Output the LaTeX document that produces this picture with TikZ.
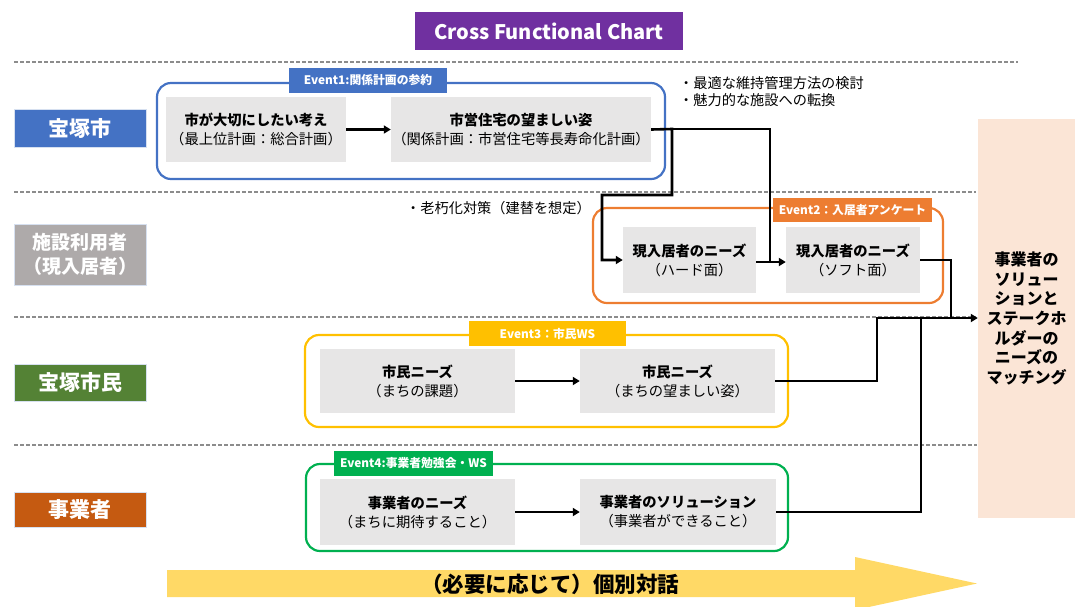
\documentclass[tikz,border=0pt]{standalone}
\usepackage{fontspec}
\setmainfont{Noto Sans CJK JP}
\usetikzlibrary{arrows.meta}
\definecolor{cpurple}{HTML}{7030A0}
\definecolor{cblue}{HTML}{4472C4}
\definecolor{cgrey}{HTML}{AEAAAA}
\definecolor{cgreen}{HTML}{548235}
\definecolor{cbrown}{HTML}{C55A11}
\definecolor{corange}{HTML}{ED7D31}
\definecolor{cyellow}{HTML}{FFC000}
\definecolor{cgreentwo}{HTML}{00B050}
\definecolor{cbox}{HTML}{E7E6E6}
\definecolor{cpeach}{HTML}{FBE5D6}
\definecolor{carrow}{HTML}{FFD966}
\definecolor{cdash}{HTML}{8C8C8C}
\definecolor{cedge}{HTML}{D6E0F0}
\begin{document}
\begin{tikzpicture}[x=1pt,y=-1pt,
  lane/.style={fill=#1, draw=cedge, line width=1pt, text=white,
    font=\fontsize{21}{24}\selectfont\bfseries, align=center, inner sep=0pt,
    minimum width=132},
  gbox/.style={fill=cbox, draw=none, align=center, inner sep=0pt,
    font=\fontsize{14.3}{19}\selectfont},
  cont/.style={draw=#1, line width=2.2pt, rounded corners=14pt, inner sep=0pt},
  evlab/.style={fill=#1, text=white, inner sep=0pt, minimum height=25,
    font=\fontsize{11.8}{13}\selectfont\bfseries},
  conn/.style={draw=black, line width=2.6pt},
  arr/.style={conn, -{Triangle[length=7pt,width=8pt]}},
  dl/.style={draw=cdash, line width=1.3pt, dash pattern=on 4pt off 2pt},
  note/.style={anchor=west, inner sep=0pt, align=left,
    font=\fontsize{14.2}{17}\selectfont}
]
\useasboundingbox (0,0) rectangle (1075,606);

% title
\node[fill=cpurple, text=white, minimum width=268, minimum height=38, inner sep=0pt,
  font=\fontsize{20}{22}\selectfont\bfseries] (title) at (549,31) {Cross Functional Chart};

% dashed separators
\draw[dl] (14,62) -- (1018,62);
\draw[dl] (14,192) -- (976,192);
\draw[dl] (14,317) -- (976,317);
\draw[dl] (14,445) -- (977,445);

% lane labels
\node[lane=cblue, minimum height=38] (L1) at (80,128) {宝塚市};
\node[lane=cgrey, minimum height=61, font=\fontsize{19}{24}\selectfont\bfseries] (L2) at (80,254.5) {施設利用者\\（現入居者）};
\node[lane=cgreen, minimum height=37] (L3) at (80,382.5) {宝塚市民};
\node[lane=cbrown, minimum height=35] (L4) at (80,509.5) {事業者};

% peach result box
\node[fill=cpeach, minimum width=97, minimum height=399, inner sep=0pt, align=center,
  font=\fontsize{16}{19.7}\selectfont\bfseries] (M) at (1026.5,318.5)
  {事業者の\\ソリュー\\ションと\\ステークホ\\ルダーの\\ニーズの\\マッチング};

% containers
\node[cont=cblue, minimum width=508, minimum height=96] (ev1) at (411,131) {};
\node[cont=corange, minimum width=350, minimum height=95] (ev2) at (768,255.5) {};
\node[cont=cyellow, minimum width=483, minimum height=92] (ev3) at (546.5,381) {};
\node[cont=cgreentwo, minimum width=482, minimum height=87] (ev4) at (547,507.5) {};

% event labels
\node[evlab=cblue, minimum width=158] (l1) at (368,80.5) {Event1:関係計画の参約};
\node[evlab=corange, minimum width=159, minimum height=24] (l2) at (852.5,210) {Event2：入居者アンケート};
\node[evlab=cyellow, minimum width=157] (l3) at (547.5,333.5) {Event3：市民WS};
\node[evlab=cgreentwo, minimum width=159] (l4) at (413.5,463.5) {Event4:事業者勉強会・WS};

% grey boxes
\node[gbox, minimum width=180, minimum height=65] (A) at (256,129.5)
  {\textbf{市が大切にしたい考え}\\（最上位計画：総合計画）};
\node[gbox, minimum width=260, minimum height=65] (B) at (521,129.5)
  {\textbf{市営住宅の望ましい姿}\\（関係計画：市営住宅等長寿命化計画）};
\node[gbox, minimum width=133, minimum height=66] (C) at (689.5,260)
  {\textbf{現入居者のニーズ}\\（ハード面）};
\node[gbox, minimum width=134, minimum height=66] (D) at (853,260)
  {\textbf{現入居者のニーズ}\\（ソフト面）};
\node[gbox, minimum width=195, minimum height=64] (E) at (417.5,381)
  {\textbf{市民ニーズ}\\（まちの課題）};
\node[gbox, minimum width=195, minimum height=64] (F) at (677.5,381)
  {\textbf{市民ニーズ}\\（まちの望ましい姿）};
\node[gbox, minimum width=195, minimum height=66] (G) at (417.5,512)
  {\textbf{事業者のニーズ}\\（まちに期待すること）};
\node[gbox, minimum width=196, minimum height=66] (H) at (678,512)
  {\textbf{事業者のソリューション}\\（事業者ができること）};

% notes
\node[note] (n1) at (679,91.5) {・最適な維持管理方法の検討\\・魅力的な施設への転換};
\node[note] (n2) at (406,208) {・老朽化対策（建替を想定）};

% junction coordinates
\coordinate (jb) at (672,129);
\coordinate (jm) at (951,318);

% connectors
\draw[arr] (A) -- (B);
\draw[arr] (B.east) -- (jb) -- (672,195) -- (602,195) |- (C.west);
\draw[conn] (jb) -| (770,262);
\draw[arr] (C.east |- 0,262) -- (D.west |- 0,262);
\draw[arr] (D.east) -| (jm) -- (M.west |- jm);
\draw[arr] (E) -- (F);
\draw[conn] (F.east) -| (877,318) -- (jm);
\draw[arr] (G) -- (H);
\draw[conn] (H.east) -| (921,318);

% big arrow
\path[fill=carrow] (167,570) -- (855,570) -- (855,557) -- (977,583.5) -- (855,610)
  -- (855,597) -- (167,597) -- cycle;
\node[inner sep=0pt, font=\fontsize{21.5}{23}\selectfont\bfseries] (talk) at (550,584)
  {（必要に応じて）個別対話};
\end{tikzpicture}
\end{document}
